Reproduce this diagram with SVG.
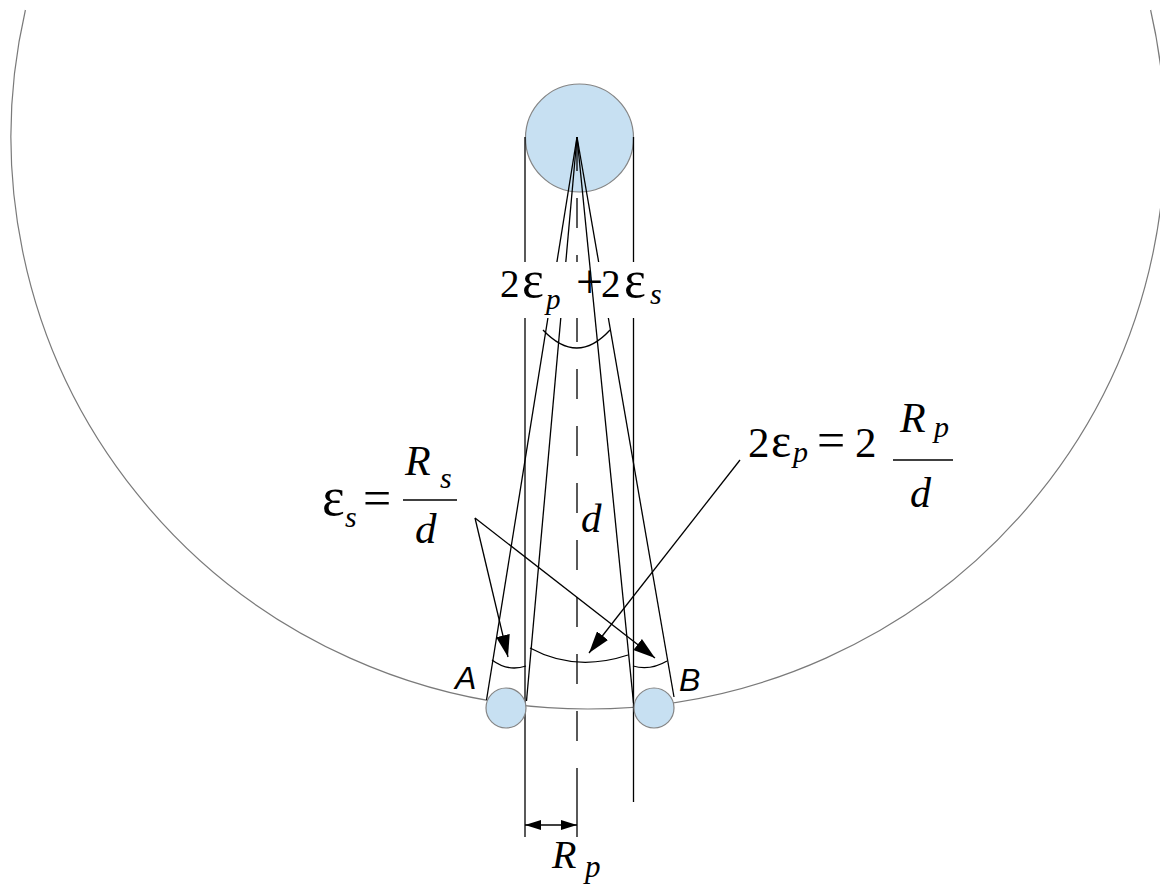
<svg xmlns="http://www.w3.org/2000/svg" width="1160" height="888" viewBox="0 0 1160 888">
<defs>
<style>
.ln{stroke:#000;stroke-width:1.3;fill:none}
.gray{stroke:#7a7a7a;stroke-width:1.2;fill:none}
.ball{fill:#c7e0f2;stroke:#858585;stroke-width:1.2}
.m{font-family:"Liberation Serif","Times New Roman",serif;fill:#000}
.i{font-style:italic}
.lab{font-family:"Liberation Sans",Arial,sans-serif;font-style:italic;fill:#000}
</style>
<marker id="ah" markerUnits="userSpaceOnUse" markerWidth="22" markerHeight="14" refX="22" refY="7" orient="auto">
<path d="M0,0 L22,7 L0,14 z" fill="#000"/>
</marker>
<marker id="sh" markerUnits="userSpaceOnUse" markerWidth="16" markerHeight="10" refX="16" refY="5" orient="auto-start-reverse">
<path d="M0,0 L16,5 L0,10 z" fill="#000"/>
</marker>
</defs>
<rect width="1160" height="888" fill="#fff"/>

<g id="orbit">
<path class="gray" d="M25.4,10 A577,572 0 1 0 1150.6,10"/>
</g>

<g id="primary">
<circle class="ball" cx="579.5" cy="138" r="54"/>
</g>

<g id="connectors">
<line class="ln" x1="525" y1="137" x2="525" y2="837"/>
<line class="ln" x1="633.5" y1="137" x2="633.5" y2="802"/>
<path class="ln" stroke-width="1.2" d="M577,141V171M577,198V228M577,255V285M577,312V342M577,369V399M577,426V456M577,483V513M577,540V570M577,597V627M577,654V684M577,711V741M577,768V837"/>
<line class="ln" x1="577" y1="137" x2="486.5" y2="700"/>
<line class="ln" x1="577" y1="137" x2="526.5" y2="701"/>
<line class="ln" x1="577" y1="137" x2="674" y2="697"/>
<path class="ln" d="M543,330 Q577,366 610,330"/>
<path class="ln" d="M530,648 Q575,672.5 628,655"/>
<path class="ln" d="M492,660 Q508,672 526,666"/>
<path class="ln" d="M633,666 Q650,671 667,661"/>
<line class="ln" x1="475" y1="518" x2="508" y2="657" marker-end="url(#ah)"/>
<line class="ln" x1="475" y1="518" x2="655" y2="658" marker-end="url(#ah)"/>
<line class="ln" x1="740" y1="460" x2="589" y2="653" marker-end="url(#ah)"/>
<line class="ln" x1="525" y1="825" x2="577" y2="825" marker-start="url(#sh)" marker-end="url(#sh)"/>
</g>

<g id="angle-total-label">
<rect x="498" y="262" width="174" height="56" fill="#fff"/>
<text class="m" x="500" y="297" font-size="39">2</text>
<text class="m" x="522" y="297" font-size="52">ε</text>
<text class="m i" x="546" y="309" font-size="29">p</text>
<text class="m" x="576" y="298" font-size="48">+</text>
<text class="m" x="601" y="297" font-size="39">2</text>
<text class="m" x="624" y="297" font-size="52">ε</text>
<text class="m i" x="650" y="304" font-size="30">s</text>
</g>

<g id="ray-B-left">
<line class="ln" x1="577" y1="137" x2="633.5" y2="703"/>
</g>

<g id="satellite-A">
<circle class="ball" cx="506" cy="708" r="20"/>
<text class="lab" x="455" y="689" font-size="32">A</text>
</g>

<g id="satellite-B">
<circle class="ball" cx="654" cy="708" r="20"/>
<text class="lab" x="679" y="691" font-size="32">B</text>
</g>

<g id="label-d">
<text class="m i" x="581" y="532" font-size="41">d</text>
</g>

<g id="label-eps-s">
<text class="m" x="322" y="515" font-size="54">ε</text>
<text class="m i" x="345" y="527" font-size="30">s</text>
<text class="m" x="363" y="515" font-size="50">=</text>
<line class="ln" stroke-width="2" x1="403" y1="500" x2="457" y2="500"/>
<text class="m i" x="405" y="475" font-size="42">R</text>
<text class="m i" x="440" y="488" font-size="30">s</text>
<text class="m i" x="415" y="543" font-size="43">d</text>
</g>

<g id="label-eps-p">
<text class="m" x="748" y="457" font-size="43">2</text>
<text class="m" x="771" y="457" font-size="48">ε</text>
<text class="m i" x="793" y="462" font-size="30">p</text>
<text class="m" x="817" y="457" font-size="50">=</text>
<text class="m" x="855" y="457" font-size="43">2</text>
<line class="ln" stroke-width="2" x1="893" y1="460" x2="953" y2="460"/>
<text class="m i" x="900" y="432" font-size="42">R</text>
<text class="m i" x="934" y="437" font-size="30">p</text>
<text class="m i" x="910" y="507" font-size="42">d</text>
</g>

<g id="label-Rp">
<text class="m i" x="552" y="868" font-size="40">R</text>
<text class="m i" x="585" y="877" font-size="31">p</text>
</g>
</svg>
